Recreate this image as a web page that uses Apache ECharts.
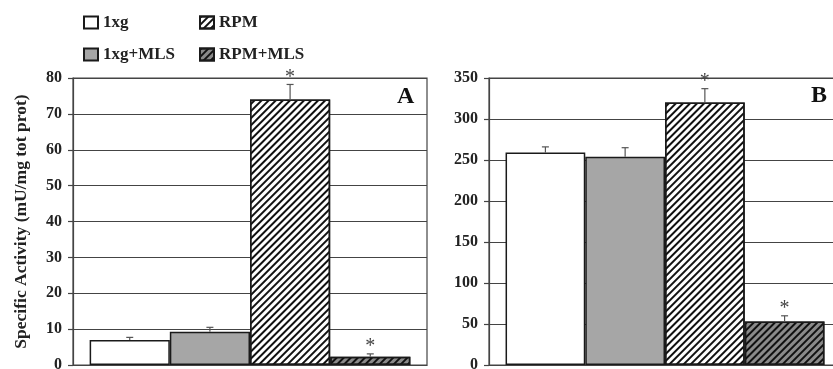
<!DOCTYPE html>
<html>
<head>
<meta charset="utf-8">
<script src="https://cdn.jsdelivr.net/npm/echarts@6/dist/echarts.min.js"></script>
<style>
html,body{margin:0;padding:0;background:#fff;}
#chart{width:833px;height:369px;}
</style>
</head>
<body>
<div id="chart"></div>
<script>
// ---- data ----
const categories = [''];
const seriesNames = ['1xg', '1xg+MLS', 'RPM', 'RPM+MLS'];
const panelA_values = [7.0, 9.3, 74.0, 2.3];
const panelA_errors = [0.7, 1.2, 4.2, 0.8];
const panelA_significant = [0, 0, 1, 1];
const panelB_values = [259, 254, 320, 53];
const panelB_errors = [7, 11, 17, 7];
const panelB_significant = [0, 0, 1, 1];
const panelA_yTicks = [0, 10, 20, 30, 40, 50, 60, 70, 80];
const panelB_yTicks = [0, 50, 100, 150, 200, 250, 300, 350];
const panelLabels = ['A', 'B'];
const yAxisTitle = 'Specific Activity (mU/mg tot prot)';

// ---- styles ----
const FONT = "'Liberation Serif', 'Times New Roman', serif";
const GAP = 0.094;
const stripe = { symbol: 'rect', symbolSize: 1, color: '#111', dashArrayX: [1, 0], dashArrayY: [2, 3], rotation: -Math.PI / 4 };
const barStyles = [
  { color: '#ffffff', borderColor: '#1a1a1a', borderWidth: 1.5 },
  { color: '#a6a6a6', borderColor: '#1a1a1a', borderWidth: 1.5 },
  { color: '#ffffff', borderColor: '#1a1a1a', borderWidth: 1.5, decal: stripe },
  { color: '#8a8a8a', borderColor: '#1a1a1a', borderWidth: 1.5, decal: stripe }
];

function makeBars(values, gridIdx) {
  return seriesNames.map((name, i) => ({
    type: 'bar', name: name, xAxisIndex: gridIdx, yAxisIndex: gridIdx,
    data: [values[i]], itemStyle: barStyles[i],
    barGap: '0%', barCategoryGap: (GAP * 100) + '%',
    emphasis: { disabled: true }, silent: true, animation: false
  }));
}

function makeErrors(values, errors, sig, gridIdx) {
  return {
    type: 'custom', xAxisIndex: gridIdx, yAxisIndex: gridIdx, silent: true, animation: false, z: 5,
    encode: { x: 0, y: 2 },
    data: values.map((v, i) => [0, i, v, errors[i], sig[i]]),
    renderItem: function (params, api) {
      const i = api.value(1), v = api.value(2), e = api.value(3), s = api.value(4);
      const base = api.coord([0, v]);
      const top = api.coord([0, v + e]);
      const band = api.size([1, 0])[0];
      const groupW = band * (1 - GAP);
      const barW = groupW / 4;
      const x = base[0] - groupW / 2 + barW * (i + 0.5);
      const st = { stroke: '#555', lineWidth: 1.2 };
      const children = [
        { type: 'line', shape: { x1: x, y1: base[1], x2: x, y2: top[1] }, style: st },
        { type: 'line', shape: { x1: x - 3.5, y1: top[1], x2: x + 3.5, y2: top[1] }, style: st }
      ];
      if (s) {
        children.push({ type: 'text', x: x, y: top[1] + 3, style: { text: '*', fill: '#444', font: '20px ' + FONT, textAlign: 'center', textVerticalAlign: 'bottom' } });
      }
      return { type: 'group', children: children };
    }
  };
}

function makeY(ticks, gridIdx, withName) {
  const y = {
    type: 'value', gridIndex: gridIdx,
    min: ticks[0], max: ticks[ticks.length - 1], interval: ticks[1] - ticks[0],
    axisLine: { show: true, lineStyle: { color: '#444', width: 1.2 } },
    axisTick: { show: true, length: 5, lineStyle: { color: '#444', width: 1.2 } },
    axisLabel: { fontFamily: FONT, fontWeight: 'bold', fontSize: 16, color: '#222', margin: 11 },
    splitLine: { show: true, lineStyle: { color: '#444', width: 1.2 } }
  };
  if (withName) {
    y.name = yAxisTitle;
    y.nameLocation = 'middle';
    y.nameGap = 43;
    y.nameTextStyle = { fontFamily: FONT, fontWeight: 'bold', fontSize: 17.5, color: '#222' };
  }
  return y;
}

function makeX(gridIdx) {
  return {
    type: 'category', gridIndex: gridIdx, data: categories,
    axisLine: { show: true, lineStyle: { color: '#444', width: 1.2 } },
    axisTick: { show: false }, axisLabel: { show: false }
  };
}

const chart = echarts.init(document.getElementById('chart'), null, { renderer: 'canvas' });
const legendText = { fontFamily: FONT, fontWeight: 'bold', fontSize: 17, color: '#222', lineHeight: 16 };
chart.setOption({
  animation: false,
  backgroundColor: '#fff',
  title: [
    { text: panelLabels[0], left: 392, top: 80, textStyle: { fontFamily: FONT, fontWeight: 'bold', fontSize: 24, color: '#111' } },
    { text: panelLabels[1], left: 806, top: 79, textStyle: { fontFamily: FONT, fontWeight: 'bold', fontSize: 24, color: '#111' } }
  ],
  legend: [
    { data: [seriesNames[0], seriesNames[1]], orient: 'vertical', left: 83, top: 14, padding: 0,
      itemWidth: 14, itemHeight: 12, itemGap: 15, selectedMode: false, textStyle: legendText, icon: 'rect' },
    { data: [seriesNames[2], seriesNames[3]], orient: 'vertical', left: 199, top: 14, padding: 0,
      itemWidth: 14, itemHeight: 12, itemGap: 15, selectedMode: false, textStyle: legendText, icon: 'rect' }
  ],
  grid: [
    { left: 73, top: 78, width: 354, bottom: 4, outerBoundsMode: 'none', show: true, borderColor: '#444', borderWidth: 1.2, backgroundColor: 'transparent' },
    { left: 489, top: 78, width: 352, bottom: 4, outerBoundsMode: 'none', show: true, borderColor: '#444', borderWidth: 1.2, backgroundColor: 'transparent' }
  ],
  xAxis: [makeX(0), makeX(1)],
  yAxis: [makeY(panelA_yTicks, 0, true), makeY(panelB_yTicks, 1, false)],
  series: [].concat(
    makeBars(panelA_values, 0),
    makeBars(panelB_values, 1),
    [makeErrors(panelA_values, panelA_errors, panelA_significant, 0),
     makeErrors(panelB_values, panelB_errors, panelB_significant, 1)]
  )
});
</script>
</body>
</html>
